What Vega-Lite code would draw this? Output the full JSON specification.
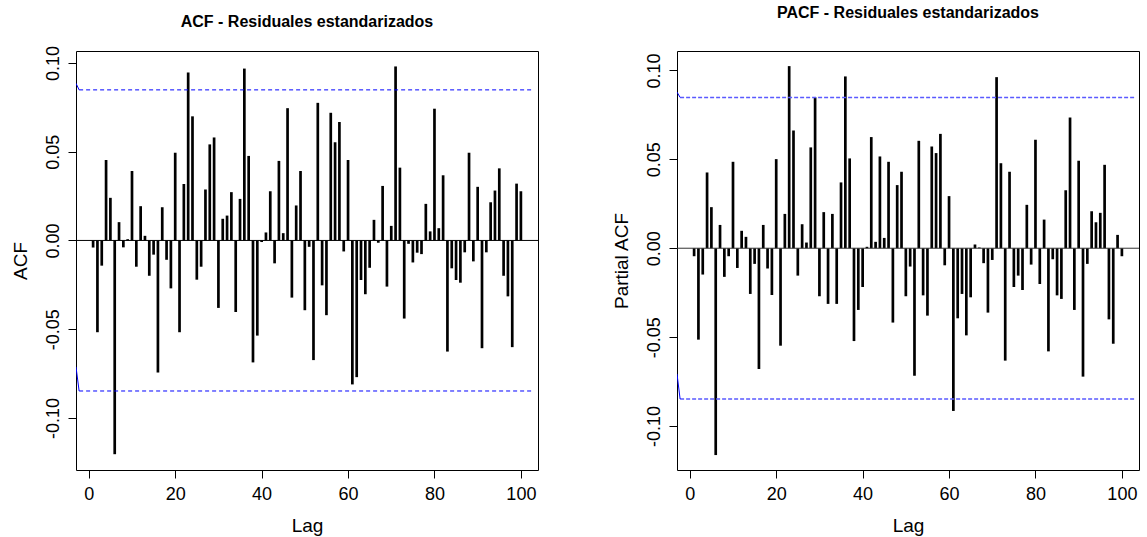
{
  "$schema": "https://vega.github.io/schema/vega-lite/v6.json",
  "background": "white",
  "padding": {"left": 10, "top": 4, "right": 5, "bottom": 0},
  "bounds": "flush",
  "spacing": 139,
  "datasets": {
    "acf": [
      {"lag":1,"value":-0.004},{"lag":2,"value":-0.0517},{"lag":3,"value":-0.0142},{"lag":4,"value":0.0453},{"lag":5,"value":0.024},
      {"lag":6,"value":-0.1204},{"lag":7,"value":0.0103},{"lag":8,"value":-0.0039},{"lag":9,"value":0.0007},{"lag":10,"value":0.0391},
      {"lag":11,"value":-0.0148},{"lag":12,"value":0.0193},{"lag":13,"value":0.0026},{"lag":14,"value":-0.0199},{"lag":15,"value":-0.008},
      {"lag":16,"value":-0.0744},{"lag":17,"value":0.0187},{"lag":18,"value":-0.0109},{"lag":19,"value":-0.027},{"lag":20,"value":0.0494},
      {"lag":21,"value":-0.0517},{"lag":22,"value":0.0318},{"lag":23,"value":0.0946},{"lag":24,"value":0.0699},{"lag":25,"value":-0.0221},
      {"lag":26,"value":-0.0148},{"lag":27,"value":0.0287},{"lag":28,"value":0.0541},{"lag":29,"value":0.058},{"lag":30,"value":-0.038},
      {"lag":31,"value":0.0122},{"lag":32,"value":0.014},{"lag":33,"value":0.0272},{"lag":34,"value":-0.0403},{"lag":35,"value":0.0234},
      {"lag":36,"value":0.0968},{"lag":37,"value":0.0476},{"lag":38,"value":-0.0687},{"lag":39,"value":-0.0536},{"lag":40,"value":-0.0009},
      {"lag":41,"value":0.0045},{"lag":42,"value":0.0277},{"lag":43,"value":-0.0129},{"lag":44,"value":0.0448},{"lag":45,"value":0.0041},
      {"lag":46,"value":0.0745},{"lag":47,"value":-0.0322},{"lag":48,"value":0.0197},{"lag":49,"value":0.0391},{"lag":50,"value":-0.0393},
      {"lag":51,"value":-0.0036},{"lag":52,"value":-0.0674},{"lag":53,"value":0.0775},{"lag":54,"value":-0.0253},{"lag":55,"value":-0.0421},
      {"lag":56,"value":0.0719},{"lag":57,"value":0.0553},{"lag":58,"value":0.0667},{"lag":59,"value":-0.0062},{"lag":60,"value":0.0453},
      {"lag":61,"value":-0.0811},{"lag":62,"value":-0.077},{"lag":63,"value":-0.0223},{"lag":64,"value":-0.0303},{"lag":65,"value":-0.0154},
      {"lag":66,"value":0.0116},{"lag":67,"value":-0.0013},{"lag":68,"value":0.0307},{"lag":69,"value":-0.026},{"lag":70,"value":0.0082},
      {"lag":71,"value":0.098},{"lag":72,"value":0.041},{"lag":73,"value":-0.044},{"lag":74,"value":-0.0019},{"lag":75,"value":-0.0124},
      {"lag":76,"value":-0.0069},{"lag":77,"value":-0.0077},{"lag":78,"value":0.0206},{"lag":79,"value":0.0051},{"lag":80,"value":0.0742},
      {"lag":81,"value":0.0069},{"lag":82,"value":0.0367},{"lag":83,"value":-0.0626},{"lag":84,"value":-0.0157},{"lag":85,"value":-0.0223},
      {"lag":86,"value":-0.0238},{"lag":87,"value":-0.0067},{"lag":88,"value":0.0494},{"lag":89,"value":-0.0118},{"lag":90,"value":0.0302},
      {"lag":91,"value":-0.0607},{"lag":92,"value":-0.0067},{"lag":93,"value":0.0215},{"lag":94,"value":0.0281},{"lag":95,"value":0.0406},
      {"lag":96,"value":-0.0199},{"lag":97,"value":-0.0315},{"lag":98,"value":-0.0601},{"lag":99,"value":0.032},{"lag":100,"value":0.0277}
    ],
    "pacf": [
      {"lag":1,"value":-0.0045},{"lag":2,"value":-0.0514},{"lag":3,"value":-0.0148},{"lag":4,"value":0.0426},{"lag":5,"value":0.0231},
      {"lag":6,"value":-0.1163},{"lag":7,"value":0.0131},{"lag":8,"value":-0.0161},{"lag":9,"value":-0.0045},{"lag":10,"value":0.0486},
      {"lag":11,"value":-0.0111},{"lag":12,"value":0.0098},{"lag":13,"value":0.0064},{"lag":14,"value":-0.0257},{"lag":15,"value":-0.0088},
      {"lag":16,"value":-0.0679},{"lag":17,"value":0.0131},{"lag":18,"value":-0.0114},{"lag":19,"value":-0.0263},{"lag":20,"value":0.0501},
      {"lag":21,"value":-0.0548},{"lag":22,"value":0.0193},{"lag":23,"value":0.1024},{"lag":24,"value":0.0662},{"lag":25,"value":-0.0154},
      {"lag":26,"value":0.0135},{"lag":27,"value":0.0032},{"lag":28,"value":0.0567},{"lag":29,"value":0.0848},{"lag":30,"value":-0.027},
      {"lag":31,"value":0.0203},{"lag":32,"value":-0.0313},{"lag":33,"value":0.0193},{"lag":34,"value":-0.0313},{"lag":35,"value":0.037},
      {"lag":36,"value":0.0966},{"lag":37,"value":0.0505},{"lag":38,"value":-0.0522},{"lag":39,"value":-0.0347},{"lag":40,"value":-0.0218},
      {"lag":41,"value":0.0008},{"lag":42,"value":0.0625},{"lag":43,"value":0.0036},{"lag":44,"value":0.0516},{"lag":45,"value":0.0058},
      {"lag":46,"value":0.0486},{"lag":47,"value":-0.0418},{"lag":48,"value":0.0355},{"lag":49,"value":0.043},{"lag":50,"value":-0.027},
      {"lag":51,"value":-0.0103},{"lag":52,"value":-0.0717},{"lag":53,"value":0.0604},{"lag":54,"value":-0.0265},{"lag":55,"value":-0.0379},
      {"lag":56,"value":0.0572},{"lag":57,"value":0.0535},{"lag":58,"value":0.0643},{"lag":59,"value":-0.0096},{"lag":60,"value":0.0293},
      {"lag":61,"value":-0.0915},{"lag":62,"value":-0.0394},{"lag":63,"value":-0.0257},{"lag":64,"value":-0.049},{"lag":65,"value":-0.0276},
      {"lag":66,"value":0.0021},{"lag":67,"value":0.0004},{"lag":68,"value":-0.0084},{"lag":69,"value":-0.0362},{"lag":70,"value":-0.0066},
      {"lag":71,"value":0.0962},{"lag":72,"value":0.0478},{"lag":73,"value":-0.0632},{"lag":74,"value":0.043},{"lag":75,"value":-0.0218},
      {"lag":76,"value":-0.0154},{"lag":77,"value":-0.0235},{"lag":78,"value":0.0244},{"lag":79,"value":-0.0092},{"lag":80,"value":0.061},
      {"lag":81,"value":-0.0201},{"lag":82,"value":0.0161},{"lag":83,"value":-0.058},{"lag":84,"value":-0.0062},{"lag":85,"value":-0.0265},
      {"lag":86,"value":-0.0285},{"lag":87,"value":0.0326},{"lag":88,"value":0.0735},{"lag":89,"value":-0.0347},{"lag":90,"value":0.0492},
      {"lag":91,"value":-0.0722},{"lag":92,"value":-0.0088},{"lag":93,"value":0.0208},{"lag":94,"value":0.0146},{"lag":95,"value":0.0199},
      {"lag":96,"value":0.0469},{"lag":97,"value":-0.04},{"lag":98,"value":-0.0537},{"lag":99,"value":0.0075},{"lag":100,"value":-0.0045}
    ],
    "edges": [
      {"panel":"ACF","seg":"top","lag":-2.96,"value":0.0885},{"panel":"ACF","seg":"top","lag":-2.24,"value":0.0848},
      {"panel":"ACF","seg":"bot","lag":-2.96,"value":-0.0712},{"panel":"ACF","seg":"bot","lag":-2.24,"value":-0.0848},
      {"panel":"PACF","seg":"top","lag":-2.96,"value":0.0878},{"panel":"PACF","seg":"top","lag":-2.24,"value":0.0848},
      {"panel":"PACF","seg":"bot","lag":-2.96,"value":-0.0707},{"panel":"PACF","seg":"bot","lag":-2.24,"value":-0.0848}
    ],
    "one": [{}]
  },
  "config": {
    "font": "Liberation Sans",
    "view": {"stroke": "#000", "strokeWidth": 1},
    "axis": {
      "grid": false, "domain": false, "tickColor": "#000", "tickSize": 8, "tickWidth": 1,
      "labelColor": "#000", "labelFont": "Liberation Sans", "labelFontSize": 18,
      "titleFont": "Liberation Sans", "titleFontSize": 19, "titleFontWeight": "normal", "titleColor": "#000"
    },
    "title": {"font": "Liberation Sans", "fontSize": 16, "fontWeight": "bold", "color": "#000", "anchor": "middle", "baseline": "alphabetic", "frame": "group"}
  },
  "hconcat": [
    {
      "width": 462, "height": 419,
      "title": {"text": "ACF - Residuales estandarizados", "offset": 24.7, "dy": 9},
      "layer": [
        {
          "data": {"name": "acf"},
          "mark": {"type": "rule", "strokeWidth": 2.7, "color": "#000"},
          "encoding": {
            "x": {"field": "lag", "type": "quantitative",
              "scale": {"domain": [-2.96, 103.96], "nice": false, "zero": false},
              "axis": {"values": [0, 20, 40, 60, 80, 100], "title": "Lag", "labelBaseline": "alphabetic", "labelPadding": 21.7, "labelFlush": false, "titleBaseline": "alphabetic", "titleY": 61.7}},
            "y": {"field": "value", "type": "quantitative",
              "scale": {"domain": [-0.1293, 0.1067], "nice": false, "zero": false},
              "axis": {"values": [-0.1, -0.05, 0, 0.05, 0.1], "title": "ACF", "labelAngle": 270, "labelAlign": "center", "labelBaseline": "alphabetic", "labelPadding": 9.4, "labelFlush": false,
                "labelExpr": "replace(format(datum.value, '.2f'), '\u2212', '-')",
                "titleAngle": 270, "titleAlign": "center", "titleBaseline": "alphabetic", "titleX": -49.7, "titleY": 209.5}},
            "y2": {"datum": 0}
          }
        },
        {
          "data": {"name": "one"},
          "mark": {"type": "rule", "color": "#000", "strokeWidth": 1},
          "encoding": {"y": {"datum": 0}}
        },
        {
          "data": {"name": "one"},
          "mark": {"type": "rule", "color": "#0000ff", "strokeWidth": 1, "strokeDash": [4, 3]},
          "encoding": {"x": {"datum": -2.24}, "x2": {"datum": 103}, "y": {"datum": 0.0848}}
        },
        {
          "data": {"name": "one"},
          "mark": {"type": "rule", "color": "#0000ff", "strokeWidth": 1, "strokeDash": [4, 3]},
          "encoding": {"x": {"datum": -2.24}, "x2": {"datum": 103}, "y": {"datum": -0.0848}}
        },
        {
          "data": {"name": "edges"},
          "transform": [{"filter": "datum.panel == 'ACF'"}],
          "mark": {"type": "line", "color": "#0000ff", "strokeWidth": 1, "clip": true},
          "encoding": {"x": {"field": "lag", "type": "quantitative"}, "y": {"field": "value", "type": "quantitative"}, "detail": {"field": "seg"}}
        }
      ]
    },
    {
      "width": 462, "height": 419,
      "title": {"text": "PACF - Residuales estandarizados", "offset": 31.7, "dy": 2},
      "layer": [
        {
          "data": {"name": "pacf"},
          "mark": {"type": "rule", "strokeWidth": 2.7, "color": "#000"},
          "encoding": {
            "x": {"field": "lag", "type": "quantitative",
              "scale": {"domain": [-2.96, 103.96], "nice": false, "zero": false},
              "axis": {"values": [0, 20, 40, 60, 80, 100], "title": "Lag", "labelBaseline": "alphabetic", "labelPadding": 21.7, "labelFlush": false, "titleBaseline": "alphabetic", "titleY": 61.7}},
            "y": {"field": "value", "type": "quantitative",
              "scale": {"domain": [-0.1247, 0.1109], "nice": false, "zero": false},
              "axis": {"values": [-0.1, -0.05, 0, 0.05, 0.1], "title": "Partial ACF", "labelAngle": 270, "labelAlign": "center", "labelBaseline": "alphabetic", "labelPadding": 9.4, "labelFlush": false,
                "labelExpr": "replace(format(datum.value, '.2f'), '\u2212', '-')",
                "titleAngle": 270, "titleAlign": "center", "titleBaseline": "alphabetic", "titleX": -49.7, "titleY": 209.5}},
            "y2": {"datum": 0}
          }
        },
        {
          "data": {"name": "one"},
          "mark": {"type": "rule", "color": "#333", "strokeWidth": 1},
          "encoding": {"y": {"datum": 0}}
        },
        {
          "data": {"name": "one"},
          "mark": {"type": "rule", "color": "#5a5aff", "strokeWidth": 1.5, "strokeDash": [4, 2]},
          "encoding": {"x": {"datum": -2.24}, "x2": {"datum": 103}, "y": {"datum": 0.0848}}
        },
        {
          "data": {"name": "one"},
          "mark": {"type": "rule", "color": "#5a5aff", "strokeWidth": 1.5, "strokeDash": [4, 2]},
          "encoding": {"x": {"datum": -2.24}, "x2": {"datum": 103}, "y": {"datum": -0.0848}}
        },
        {
          "data": {"name": "edges"},
          "transform": [{"filter": "datum.panel == 'PACF'"}],
          "mark": {"type": "line", "color": "#0000ff", "strokeWidth": 1, "clip": true},
          "encoding": {"x": {"field": "lag", "type": "quantitative"}, "y": {"field": "value", "type": "quantitative"}, "detail": {"field": "seg"}}
        }
      ]
    }
  ]
}
